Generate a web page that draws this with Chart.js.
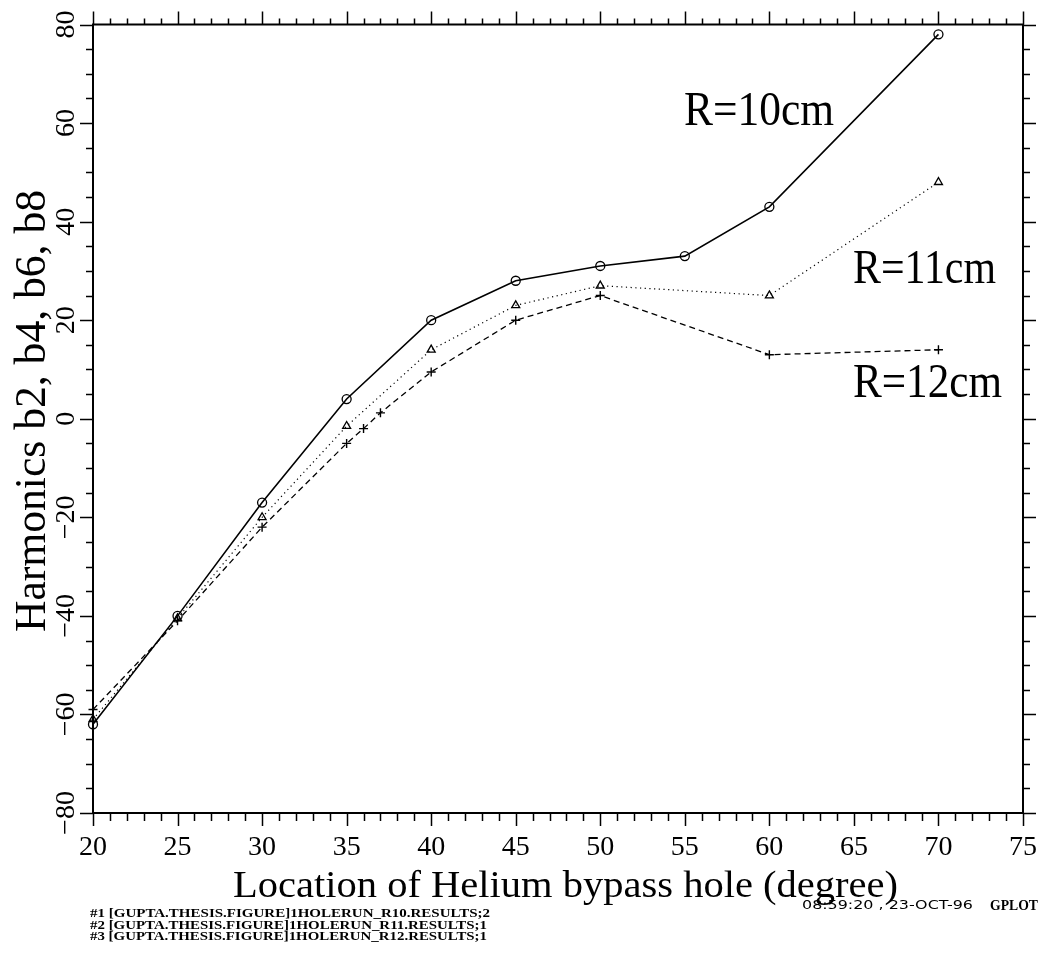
<!DOCTYPE html>
<html>
<head>
<meta charset="utf-8">
<title>Harmonics vs Helium bypass hole location</title>
<script src="https://cdn.jsdelivr.net/npm/chart.js@4.4.1/dist/chart.umd.min.js"></script>
<style>
  html, body { margin: 0; padding: 0; background: #fff; }
  #wrap { width: 1047px; height: 954px; }
</style>
</head>
<body>
<div id="wrap"><canvas id="harmonicsChart" width="1047" height="954"></canvas></div>
<script>
// values
const r10Angles = [20, 25, 30, 35, 40, 45, 50, 55, 60, 70];
const r10Values = [-62, -40, -17, 4, 20, 28, 31, 33, 43, 78];
const r11Angles = [20, 25, 30, 35, 40, 45, 50, 60, 70];
const r11Values = [-61, -40.5, -20, -1.5, 14, 23, 27, 25, 48];
const r12Angles = [20, 25, 30, 35, 36, 37, 40, 45, 50, 60, 70];
const r12Values = [-59, -41, -22, -5, -2, 1.2, 9.5, 20, 25, 13, 14];

const xTickLabels = [20, 25, 30, 35, 40, 45, 50, 55, 60, 65, 70, 75];
const yTickLabels = [80, 60, 40, 20, 0, -20, -40, -60, -80];
const seriesLabels = ['R=10cm', 'R=11cm', 'R=12cm'];
const footerLines = [
  '#1 [GUPTA.THESIS.FIGURE]1HOLERUN_R10.RESULTS;2',
  '#2 [GUPTA.THESIS.FIGURE]1HOLERUN_R11.RESULTS;1',
  '#3 [GUPTA.THESIS.FIGURE]1HOLERUN_R12.RESULTS;1'
];

function toPoints(xs, ys) {
  return xs.map((x, i) => ({ x: x, y: ys[i] }));
}

// draw text squeezed/stretched to a given width
function fitText(ctx, text, x, y, width, font, sy) {
  ctx.save();
  ctx.font = font;
  ctx.textAlign = 'left';
  ctx.textBaseline = 'alphabetic';
  const w = ctx.measureText(text).width;
  ctx.translate(x, y);
  ctx.scale(width / w, sy || 1);
  ctx.fillText(text, 0, 0);
  ctx.restore();
}

const framePlugin = {
  id: 'gplotFrame',
  afterDraw(chart) {
    const ctx = chart.ctx;
    const a = chart.chartArea;
    const xs = chart.scales.x;
    const ys = chart.scales.y;
    ctx.save();
    ctx.strokeStyle = '#000';
    ctx.fillStyle = '#000';

    // ticks, pointing outwards
    ctx.lineWidth = 1.5;
    ctx.beginPath();
    for (let v = xs.min; v <= xs.max; v++) {
      const px = Math.round(xs.getPixelForValue(v)) + 0.5;
      const len = v % 5 === 0 ? 13 : 8;
      ctx.moveTo(px, a.bottom); ctx.lineTo(px, a.bottom + len);
      ctx.moveTo(px, a.top); ctx.lineTo(px, a.top - (v % 5 === 0 ? 13 : 6));
    }
    for (let v = ys.min; v <= ys.max; v += 5) {
      const py = Math.round(ys.getPixelForValue(v)) + 0.5;
      const len = v % 20 === 0 ? 13 : 7;
      ctx.moveTo(a.left, py); ctx.lineTo(a.left - len, py);
      ctx.moveTo(a.right, py); ctx.lineTo(a.right + len, py);
    }
    ctx.stroke();

    ctx.lineWidth = 2;
    ctx.strokeRect(a.left, a.top, a.right - a.left, a.bottom - a.top);

    // tick labels
    ctx.font = '28px "Liberation Serif"';
    ctx.textAlign = 'center';
    ctx.textBaseline = 'alphabetic';
    xTickLabels.forEach((v) => {
      ctx.fillText(String(v), xs.getPixelForValue(v), 855);
    });
    yTickLabels.forEach((v) => {
      ctx.save();
      ctx.translate(74, ys.getPixelForValue(v));
      ctx.rotate(-Math.PI / 2);
      ctx.fillText(v < 0 ? '\u2212' + Math.abs(v) : String(v), 0, 0);
      ctx.restore();
    });

    // axis titles
    fitText(ctx, 'Location of Helium bypass hole (degree)', 233, 897, 665, '38px "Liberation Serif"');
    ctx.save();
    ctx.translate(45, 632);
    ctx.rotate(-Math.PI / 2);
    fitText(ctx, 'Harmonics b2, b4, b6, b8', 0, 0, 442, '44px "Liberation Serif"');
    ctx.restore();

    // series annotations
    fitText(ctx, seriesLabels[0], 684, 125, 150, '48px "Liberation Serif"');
    fitText(ctx, seriesLabels[1], 853, 283, 143, '48px "Liberation Serif"');
    fitText(ctx, seriesLabels[2], 853, 397, 149, '48px "Liberation Serif"');

    // footer
    const footerBase = [917, 929, 940];
    const footerWidth = [400, 397, 397];
    footerLines.forEach((t, i) => {
      fitText(ctx, t, 90, footerBase[i], footerWidth[i], 'bold 13px "Liberation Serif"');
    });
    fitText(ctx, '08:59:20 , 23-OCT-96', 802, 909, 171, '12px "DejaVu Sans"');
    fitText(ctx, 'GPLOT', 990, 910, 48, 'bold 15px "Liberation Serif"');

    ctx.restore();
  }
};

document.addEventListener('DOMContentLoaded', function () {
  const context = document.getElementById('harmonicsChart').getContext('2d');
  new Chart(context, {
    type: 'line',
    data: {
      datasets: [
        {
          label: seriesLabels[0],
          data: toPoints(r10Angles, r10Values),
          borderColor: '#000',
          borderWidth: 1.6,
          pointStyle: 'circle',
          pointRadius: 4.5,
          pointBorderWidth: 1.3,
          pointBorderColor: '#000',
          pointBackgroundColor: 'rgba(0,0,0,0)',
          tension: 0,
          clip: false,
        },
        {
          label: seriesLabels[1],
          data: toPoints(r11Angles, r11Values),
          borderColor: '#000',
          borderWidth: 1.2,
          borderDash: [1.2, 3.5],
          pointStyle: 'triangle',
          pointRadius: 4.6,
          pointBorderWidth: 1.3,
          pointBorderColor: '#000',
          pointBackgroundColor: 'rgba(0,0,0,0)',
          tension: 0,
          clip: false,
        },
        {
          label: seriesLabels[2],
          data: toPoints(r12Angles, r12Values),
          borderColor: '#000',
          borderWidth: 1.3,
          borderDash: [6, 4],
          pointStyle: 'cross',
          pointRadius: 4.5,
          pointBorderWidth: 1.4,
          pointBorderColor: '#000',
          tension: 0,
          clip: false,
        },
      ],
    },
    options: {
      responsive: false,
      animation: false,
      layout: { padding: { left: 93, right: 24, top: 24.5, bottom: 141 } },
      scales: {
        x: { type: 'linear', min: 20, max: 75, display: false },
        y: { type: 'linear', min: -80, max: 80, display: false },
      },
      plugins: {
        legend: { display: false },
        tooltip: { enabled: false },
      },
    },
    plugins: [framePlugin],
  });
});
</script>
</body>
</html>
